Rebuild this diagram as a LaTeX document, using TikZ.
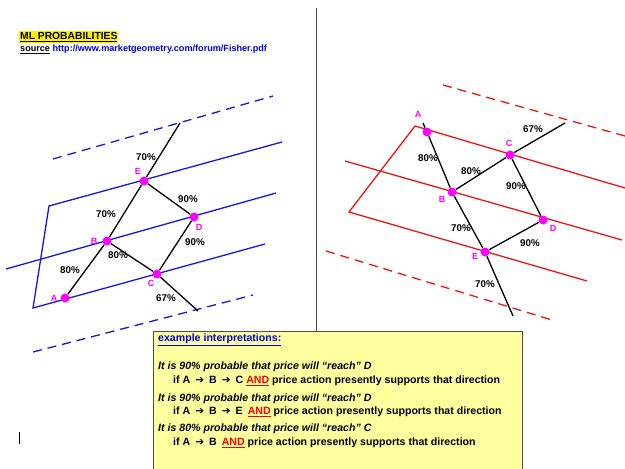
\documentclass[tikz,border=0pt]{standalone}
\usepackage{fontspec}
\setmainfont{Liberation Sans}
\newfontfamily\arrowfont{DejaVu Sans}
\usetikzlibrary{positioning}

\definecolor{pinkdot}{RGB}{255,0,255}
\definecolor{boxyellow}{RGB}{255,255,160}
\definecolor{linkblue}{RGB}{0,0,220}
\definecolor{chanblue}{RGB}{20,20,235}
\definecolor{chanred}{RGB}{240,20,20}

\newcommand{\goes}{\hspace{5pt}{\arrowfont\char"2794}\hspace{5pt}}

\begin{document}
\begin{tikzpicture}[
	x=1pt, y=-1pt,
	dot/.style={circle, fill=pinkdot, inner sep=0pt, minimum size=9pt},
	pct/.style={font=\fontsize{9.8}{11}\selectfont\bfseries, inner sep=0pt},
	letter/.style={font=\fontsize{9}{10}\selectfont\bfseries, text=pinkdot, inner sep=0pt},
	leg/.style={line width=1.3pt},
	bluechan/.style={chanblue, line width=1.3pt},
	redchan/.style={chanred, line width=1.3pt},
	gap/.style={dash pattern=on 9pt off 6pt},
	boxtext/.style={anchor=west, inner sep=0pt, font=\fontsize{10.6}{12}\selectfont\bfseries},
	boxcase/.style={boxtext, font=\fontsize{10.6}{12}\selectfont\bfseries\itshape}
	]
	\useasboundingbox (0,0) rectangle (625,469);
	
	% Title
	\node[anchor=west, fill=yellow, inner sep=1pt, font=\fontsize{10.3}{12}\selectfont\bfseries] (title) at (19,37) {\underline{ML PROBABILITIES}};
	\node[anchor=west, inner sep=0pt, font=\fontsize{9.1}{10}\selectfont\bfseries] (source) at (20,49) {\underline{source} \textcolor{linkblue}{http://www.marketgeometry.com/forum/Fisher.pdf}};
	
	% Divider
	\draw[gray!60!black, line width=0.8pt] (316,8) -- (316,331);
	
	% Left channel
	\draw[bluechan] (282,142) -- (49,206) -- (33,308) -- (265,244);
	\draw[bluechan] (6,269) -- (276,193);
	\draw[bluechan, gap] (53,159) -- (273,96);
	\draw[bluechan, gap] (33,352) -- (253,295);
	
	% Left points
	\node[dot] (lA) at (65,298) {};
	\node[dot] (lB) at (107,241) {};
	\node[dot] (lE) at (144,181) {};
	\node[dot] (lD) at (194,217) {};
	\node[dot] (lC) at (157,274) {};
	\coordinate (lTop) at (180,123);
	\coordinate (lEnd) at (198,311);
	
	% Left legs
	\draw[leg] (lA) -- (lB);
	\draw[leg] (lB) -- (lE);
	\draw[leg] (lE) -- (lTop);
	\draw[leg] (lE) -- (lD);
	\draw[leg] (lB) -- (lC);
	\draw[leg] (lC) -- (lEnd);
	\draw[leg] (lC) -- (lD);
	
	% Left labels
	\node[letter] (lAlab) at (54,298) {A};
	\node[letter] (lBlab) at (94,241) {B};
	\node[letter] (lClab) at (151,283) {C};
	\node[letter] (lDlab) at (199,227) {D};
	\node[letter] (lElab) at (138,171) {E};
	\node[pct] (lAB) at (70,270) {80\%};
	\node[pct] (lBE) at (106,214) {70\%};
	\node[pct] (lETop) at (146,157) {70\%};
	\node[pct] (lED) at (188,199) {90\%};
	\node[pct] (lBC) at (118,255) {80\%};
	\node[pct] (lCD) at (195,242) {90\%};
	\node[pct] (lCEnd) at (166,298) {67\%};
	
	% Right channel
	\draw[redchan] (625,188) -- (415,126) -- (349,212) -- (587,281);
	\draw[redchan] (345,161) -- (622,240);
	\draw[redchan, gap] (443,85) -- (625,136);
	\draw[redchan, gap] (326,251) -- (552,320);
	
	% Right points
	\node[dot] (rA) at (427,132) {};
	\node[dot] (rB) at (452,192) {};
	\node[dot] (rE) at (485,252) {};
	\node[dot] (rC) at (510,155) {};
	\node[dot] (rD) at (543,220) {};
	\coordinate (rTop) at (423,123);
	\coordinate (rEnd) at (513,316);
	\coordinate (rFar) at (565,123);
	
	% Right legs
	\draw[leg] (rTop) -- (rA);
	\draw[leg] (rA) -- (rB);
	\draw[leg] (rB) -- (rE);
	\draw[leg] (rE) -- (rEnd);
	\draw[leg] (rB) -- (rC);
	\draw[leg] (rC) -- (rFar);
	\draw[leg] (rC) -- (rD);
	\draw[leg] (rE) -- (rD);
	
	% Right labels
	\node[letter] (rAlab) at (418,114) {A};
	\node[letter] (rBlab) at (442,199) {B};
	\node[letter] (rClab) at (509,143) {C};
	\node[letter] (rDlab) at (553,228) {D};
	\node[letter] (rElab) at (475,256) {E};
	\node[pct] (rAB) at (428,158) {80\%};
	\node[pct] (rBC) at (471,171) {80\%};
	\node[pct] (rCFar) at (533,129) {67\%};
	\node[pct] (rCD) at (516,186) {90\%};
	\node[pct] (rBE) at (461,228) {70\%};
	\node[pct] (rED) at (530,243) {90\%};
	\node[pct] (rEEnd) at (485,284) {70\%};
	
	% Interpretations
	\draw[gray!60!black, fill=boxyellow] (153,331) rectangle (522,480);
	\node[boxtext, text=linkblue] (heading) at (158,340) {\underline{example interpretations:}};
	\node[boxcase] (caseD1) at (158,367) {It is 90\% probable that price will “reach” D};
	\node[boxtext] (pathD1) at (173,381) {if A\goes B\goes C \textcolor{red}{\underline{AND}} price action presently supports that direction};
	\node[boxcase] (caseD2) at (158,399) {It is 90\% probable that price will “reach” D};
	\node[boxtext] (pathD2) at (173,412) {if A\goes B\goes E\hspace{5pt}\textcolor{red}{\underline{AND}} price action presently supports that direction};
	\node[boxcase] (caseC) at (158,429) {It is 80\% probable that price will “reach” C};
	\node[boxtext] (pathC) at (173,443) {if A\goes B\hspace{5pt}\textcolor{red}{\underline{AND}} price action presently supports that direction};
	
	% Cursor
	\draw[line width=0.9pt] (19,432) -- (19,444);
	
\end{tikzpicture}
\end{document}
